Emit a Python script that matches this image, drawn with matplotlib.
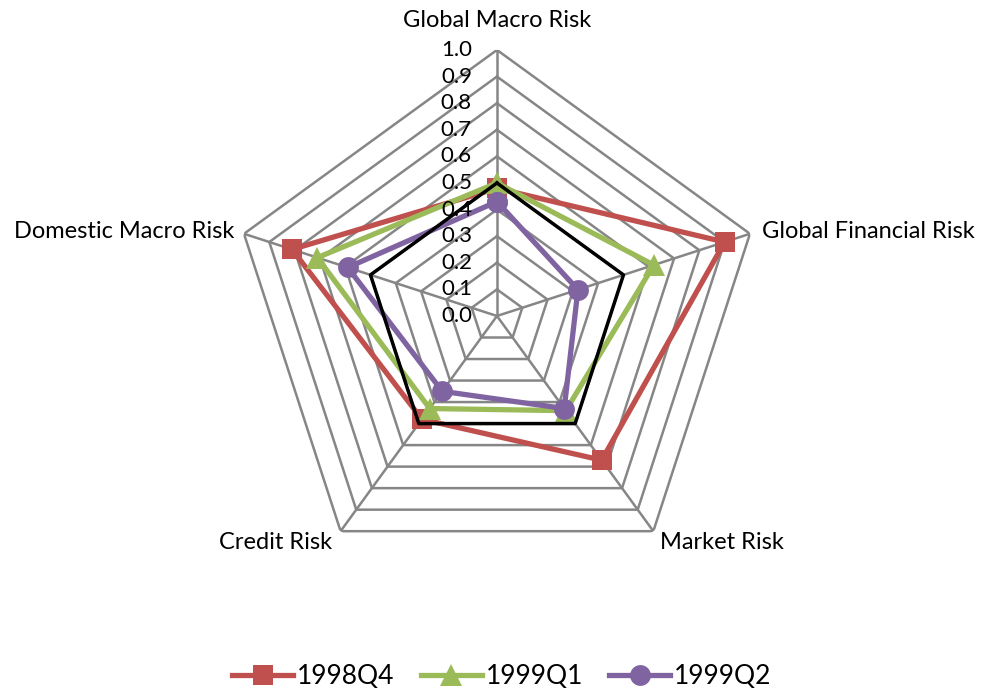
import numpy as np
import matplotlib
matplotlib.use("Agg")
import matplotlib.pyplot as plt
from matplotlib.transforms import offset_copy

plt.rcParams['font.family'] = ['Lato', 'DejaVu Sans']

categories = ["Global Macro Risk", "Global Financial Risk", "Market Risk",
              "Credit Risk", "Domestic Macro Risk"]
q4_1998 = [0.48, 0.90, 0.67, 0.48, 0.81]
q1_1999 = [0.50, 0.62, 0.44, 0.43, 0.71]
q2_1999 = [0.43, 0.32, 0.43, 0.35, 0.59]
benchmark = [0.5, 0.5, 0.5, 0.5, 0.5]
series_names = ["1998Q4", "1999Q1", "1999Q2"]
levels = [0.0, 0.1, 0.2, 0.3, 0.4, 0.5, 0.6, 0.7, 0.8, 0.9, 1.0]

n = len(categories)
theta = np.arange(n) * 2 * np.pi / n
theta_closed = np.append(theta, theta[0])


def closed(vals):
    return np.append(vals, vals[0])


fig = plt.figure(figsize=(9.84, 6.95), dpi=100)
ax = fig.add_axes([0.2347, 0.1626, 0.5407, 0.7655], projection='polar')
ax.set_theta_zero_location('N')
ax.set_theta_direction(-1)
ax.set_ylim(0, 1)
ax.grid(False)
ax.spines['polar'].set_visible(False)
ax.set_xticks([])
ax.set_yticks([])

grid_col = '#868686'
# pentagon rings and spokes
for lv in levels[1:]:
    ax.plot(theta_closed, [lv] * (n + 1), color=grid_col, lw=1.8, zorder=1)
for t in theta:
    ax.plot([t, t], [0, 1], color=grid_col, lw=1.8, zorder=1)

styles = [
    (q4_1998, '#C0504D', 's', 14.5),
    (q1_1999, '#9BBB59', '^', 16),
    (q2_1999, '#8064A2', 'o', 15),
]
for (vals, col, mk, ms), name in zip(styles, series_names):
    ax.plot(theta_closed, closed(vals), color=col, lw=3.8, marker=mk,
            markersize=ms, markeredgewidth=0, label=name, zorder=3,
            clip_on=False)

ax.plot(theta_closed, closed(benchmark), color='black', lw=2.5, zorder=4)

# radial scale labels along the top spoke
lab_tr = offset_copy(ax.transData, fig=fig, x=-25, y=0, units='dots')
for lv in levels:
    ax.text(0, lv, f"{lv:.1f}", transform=lab_tr, ha='right', va='center',
            fontsize=16, zorder=5)

# category labels
label_pos = [
    (1.11, 'center', 'center', 0, 0),
    (1.0, 'left', 'center', 12, 2),
    (1.0, 'left', 'top', 7, -1),
    (1.0, 'right', 'top', -8, -1),
    (1.0, 'right', 'center', -10, 2),
]
for t, name, (r, ha, va, dx, dy) in zip(theta, categories, label_pos):
    tr = offset_copy(ax.transData, fig=fig, x=dx, y=dy, units='dots')
    ax.text(t, r, name, transform=tr, ha=ha, va=va, fontsize=17)

fig.legend(loc='center', bbox_to_anchor=(0.51, 0.026), ncol=3, frameon=False,
           fontsize=19, handlelength=2.3, handletextpad=0.15,
           columnspacing=1.0)

fig.savefig("out.png", dpi=100)
